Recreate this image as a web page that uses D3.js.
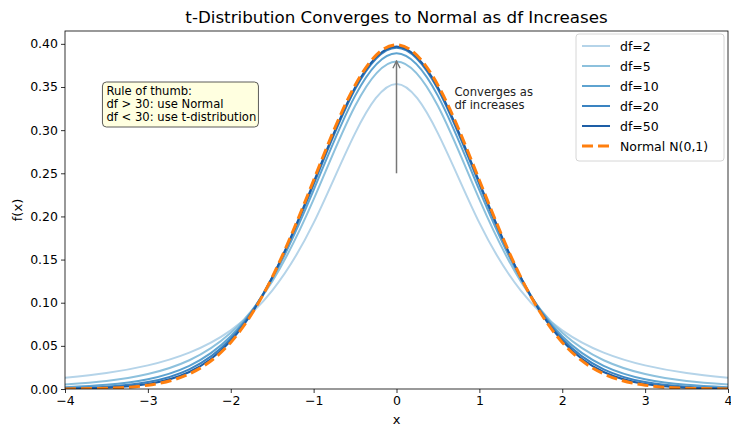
<!DOCTYPE html>
<html>
<head>
<meta charset="utf-8">
<script src="https://cdn.jsdelivr.net/npm/d3@7"></script>
<style>
  body { margin: 0; background: #fff; }
  text { font-family: "DejaVu Sans", sans-serif; }
</style>
</head>
<body>
<script>
// x sample positions (every 0.5)
var xs = [-4, -3.5, -3, -2.5, -2, -1.5, -1, -0.5, 0, 0.5, 1, 1.5, 2, 2.5, 3, 3.5, 4];

// density values for each curve at those x positions
var df2 = [0.0131, 0.0186, 0.0274, 0.0422, 0.0680, 0.1141, 0.1925, 0.2963, 0.3536, 0.2963, 0.1925, 0.1141, 0.0680, 0.0422, 0.0274, 0.0186, 0.0131];
var df5 = [0.0051, 0.0092, 0.0173, 0.0333, 0.0651, 0.1245, 0.2197, 0.3279, 0.3796, 0.3279, 0.2197, 0.1245, 0.0651, 0.0333, 0.0173, 0.0092, 0.0051];
var df10 = [0.0020, 0.0048, 0.0114, 0.0269, 0.0611, 0.1275, 0.2304, 0.3397, 0.3891, 0.3397, 0.2304, 0.1275, 0.0611, 0.0269, 0.0114, 0.0048, 0.0020];
var df20 = [0.0008, 0.0026, 0.0080, 0.0228, 0.0583, 0.1292, 0.2370, 0.3473, 0.3956, 0.3473, 0.2370, 0.1292, 0.0583, 0.0228, 0.0080, 0.0026, 0.0008];
var df50 = [0.0003, 0.0015, 0.0058, 0.0197, 0.0558, 0.1292, 0.2396, 0.3495, 0.3969, 0.3495, 0.2396, 0.1292, 0.0558, 0.0197, 0.0058, 0.0015, 0.0003];
var normal = [0.0001, 0.0009, 0.0044, 0.0175, 0.0540, 0.1295, 0.2420, 0.3521, 0.3989, 0.3521, 0.2420, 0.1295, 0.0540, 0.0175, 0.0044, 0.0009, 0.0001];

var seriesNames = ["df=2", "df=5", "df=10", "df=20", "df=50"];
var seriesValues = [df2, df5, df10, df20, df50];
var blues = ["#b5d4e9", "#8dc1dd", "#5ea3d0", "#3a83c1", "#1d5ea6"];

var xTicks = [-4, -3, -2, -1, 0, 1, 2, 3, 4];
var yTicks = [0, 0.05, 0.10, 0.15, 0.20, 0.25, 0.30, 0.35, 0.40];

var W = 731, H = 428;
var margin = { top: 31, right: 3, bottom: 39, left: 65 };
var width = W - margin.left - margin.right;
var height = H - margin.top - margin.bottom;

var svg = d3.select("body").append("svg")
    .attr("width", W)
    .attr("height", H);

var g = svg.append("g")
    .attr("transform", "translate(" + margin.left + "," + margin.top + ")");

var xScale = d3.scaleLinear().domain([-4, 4]).range([0, width]);
var yScale = d3.scaleLinear().domain([0, 0.4149]).range([height, 0]);

var line = d3.line()
    .x(function (d) { return xScale(d[0]); })
    .y(function (d) { return yScale(d[1]); })
    .curve(d3.curveNatural);

g.append("clipPath").attr("id", "clip")
    .append("rect").attr("width", width).attr("height", height);

var plot = g.append("g").attr("clip-path", "url(#clip)");

seriesValues.forEach(function (vals, i) {
    plot.append("path")
        .datum(xs.map(function (x, j) { return [x, vals[j]]; }))
        .attr("fill", "none")
        .attr("stroke", blues[i])
        .attr("stroke-width", 2)
        .attr("d", line);
});

plot.append("path")
    .datum(xs.map(function (x, j) { return [x, normal[j]]; }))
    .attr("fill", "none")
    .attr("stroke", "#ff7f0e")
    .attr("stroke-width", 3)
    .attr("stroke-dasharray", "11,5")
    .attr("d", line);

// Axes
var xAxis = g.append("g")
    .attr("transform", "translate(0," + height + ")")
    .call(d3.axisBottom(xScale).tickValues(xTicks).tickSize(4).tickPadding(3)
        .tickFormat(function (d) { return d < 0 ? "\u2212" + Math.abs(d) : d; }));
var yAxis = g.append("g")
    .call(d3.axisLeft(yScale).tickValues(yTicks).tickSize(4).tickPadding(3)
        .tickFormat(d3.format(".2f")));

[xAxis, yAxis].forEach(function (a) {
    a.select(".domain").remove();
    a.selectAll("text").attr("font-size", 12.5).attr("fill", "#000")
        .style("font-family", "DejaVu Sans, sans-serif");
    a.selectAll("line").attr("stroke", "#000").attr("stroke-width", 0.8);
});

// frame
g.append("rect")
    .attr("width", width).attr("height", height)
    .attr("fill", "none").attr("stroke", "#000").attr("stroke-width", 0.8);

// labels
svg.append("text")
    .attr("x", margin.left + width / 2).attr("y", 23)
    .attr("text-anchor", "middle").attr("font-size", 16.7)
    .text("t-Distribution Converges to Normal as df Increases");
svg.append("text")
    .attr("x", margin.left + width / 2).attr("y", 424)
    .attr("text-anchor", "middle").attr("font-size", 13)
    .text("x");
svg.append("text")
    .attr("transform", "translate(22," + (margin.top + height / 2) + ") rotate(-90)")
    .attr("text-anchor", "middle").attr("font-size", 13)
    .text("f(x)");

// arrow annotation
svg.append("defs").append("marker")
    .attr("id", "arrowhead").attr("viewBox", "0 0 10 10")
    .attr("refX", 9).attr("refY", 5)
    .attr("markerWidth", 9).attr("markerHeight", 9)
    .attr("markerUnits", "userSpaceOnUse")
    .attr("orient", "auto")
    .append("path").attr("d", "M1,1 L9,5 L1,9").attr("fill", "none")
    .attr("stroke", "#777").attr("stroke-width", 1.5);

g.append("line")
    .attr("x1", xScale(0)).attr("y1", yScale(0.25))
    .attr("x2", xScale(0)).attr("y2", yScale(0.38))
    .attr("stroke", "#777").attr("stroke-width", 1.5)
    .attr("marker-end", "url(#arrowhead)");

var conv = g.append("text")
    .attr("x", xScale(0.7)).attr("y", yScale(0.34))
    .attr("font-size", 11.6).attr("fill", "#222");
conv.append("tspan").attr("x", xScale(0.7)).text("Converges as");
conv.append("tspan").attr("x", xScale(0.7)).attr("dy", 13).text("df increases");

// rule of thumb box
var ruleLines = ["Rule of thumb:", "df > 30: use Normal", "df < 30: use t-distribution"];
var box = g.append("g").attr("transform", "translate(" + (xScale(-3.5) - 4) + "," + 51 + ")");
box.append("rect")
    .attr("width", 156).attr("height", 45).attr("rx", 4)
    .attr("fill", "#ffffe0").attr("stroke", "#333").attr("stroke-width", 0.8);
ruleLines.forEach(function (t, i) {
    box.append("text").attr("x", 4).attr("y", 13 + i * 13)
        .attr("font-size", 11.6).text(t);
});

// legend
var legendNames = seriesNames.concat(["Normal N(0,1)"]);
var legend = g.append("g").attr("transform", "translate(" + (width - 152) + ",3)");
legend.append("rect")
    .attr("width", 148).attr("height", 127).attr("rx", 3)
    .attr("fill", "#fff").attr("fill-opacity", 0.8)
    .attr("stroke", "#ccc").attr("stroke-width", 0.8);
legendNames.forEach(function (name, i) {
    var y = 12 + i * 20;
    var isNormal = i === legendNames.length - 1;
    legend.append("line")
        .attr("x1", 6).attr("x2", 34).attr("y1", y).attr("y2", y)
        .attr("stroke", isNormal ? "#ff7f0e" : blues[i])
        .attr("stroke-width", isNormal ? 3 : 2)
        .attr("stroke-dasharray", isNormal ? "11,5" : null);
    legend.append("text").attr("x", 44).attr("y", y + 4.5)
        .attr("font-size", 12.5).text(name);
});
</script>
</body>
</html>
